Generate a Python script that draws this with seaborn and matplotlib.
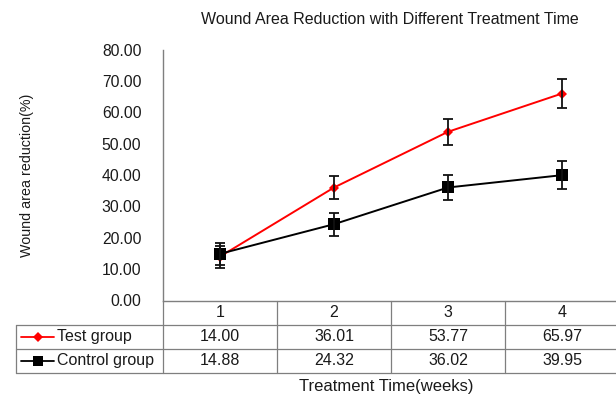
import numpy as np
import pandas as pd
import seaborn as sns
import matplotlib
matplotlib.use('Agg')
import matplotlib.pyplot as plt
from matplotlib.transforms import blended_transform_factory

# data
weeks = [1, 2, 3, 4]
test_vals = [14.00, 36.01, 53.77, 65.97]
control_vals = [14.88, 24.32, 36.02, 39.95]
test_err = [3.5, 3.8, 4.2, 4.5]
control_err = [3.5, 3.7, 4.1, 4.4]
series_names = ['Test group', 'Control group']
y_ticks = [0, 10, 20, 30, 40, 50, 60, 70, 80]

sns.set_style('white')
plt.rcParams['font.family'] = ['Liberation Sans', 'DejaVu Sans']
txt = '#1a1a1a'
grid_c = '#7f7f7f'

W, H = 616, 398
fig = plt.figure(figsize=(W / 100, H / 100), dpi=100)
ax = fig.add_axes([163 / W, 97.5 / H, 456 / W, 251 / H])

df = pd.DataFrame({
    'week': weeks * 2,
    'value': test_vals + control_vals,
    'group': [series_names[0]] * 4 + [series_names[1]] * 4,
})

sns.lineplot(data=df[df.group == series_names[0]], x='week', y='value', ax=ax,
             color='#ff0000', marker='D', markersize=5.5, markeredgewidth=0,
             linewidth=1.4, errorbar=None, zorder=3)
sns.lineplot(data=df[df.group == series_names[1]], x='week', y='value', ax=ax,
             color='black', marker='s', markersize=8, markeredgewidth=0,
             linewidth=1.4, errorbar=None, zorder=4)
ax.errorbar(weeks, test_vals, yerr=test_err, fmt='none', ecolor='#111111',
            elinewidth=1.3, capsize=3.5, capthick=1.3, zorder=5)
ax.errorbar(weeks, control_vals, yerr=control_err, fmt='none', ecolor='#111111',
            elinewidth=1.3, capsize=3.5, capthick=1.3, zorder=5)

ax.set_xlim(0.5, 4.5)
ax.set_ylim(0, 80)
ax.set_yticks(y_ticks)
ax.set_yticklabels([f'{v:.2f}' for v in y_ticks], fontsize=11.3, color=txt)
ax.tick_params(axis='y', direction='in', length=4, width=1, color=grid_c, pad=15.5)
ax.set_xticks([])
ax.set_xlabel('')
ax.set_ylabel('Wound area reduction(%)', fontsize=10.3, color=txt)
ax.yaxis.set_label_coords(-0.282, 0.5)
for s in ['top', 'right']:
    ax.spines[s].set_visible(False)
for s in ['left', 'bottom']:
    ax.spines[s].set_color(grid_c)
    ax.spines[s].set_linewidth(1.0)

fig.text(390 / W, 1 - 19 / H, 'Wound Area Reduction with Different Treatment Time',
         ha='center', va='center', fontsize=11.5, color=txt)
fig.text(386 / W, 1 - 386 / H, 'Treatment Time(weeks)',
         ha='center', va='center', fontsize=12, color=txt)

# data table below the axes
tr = blended_transform_factory(ax.transData, fig.transFigure)
fy = lambda p: 1 - p / H
fx = lambda p: p / W
rows = [300.5, 324.5, 348.5, 373]
kw = dict(color=grid_c, lw=0.9, clip_on=False)
for r in rows[1:]:
    fig.add_artist(plt.Line2D([fx(16), 1], [fy(r), fy(r)], **kw))
fig.add_artist(plt.Line2D([fx(16), fx(16)], [fy(rows[1]), fy(rows[3])], **kw))
fig.add_artist(plt.Line2D([fx(163), fx(163)], [fy(rows[0]), fy(rows[3])], **kw))
for b in [1.5, 2.5, 3.5]:
    ax.plot([b, b], [fy(rows[0]), fy(rows[3])], transform=tr, **kw)

row_mid = [(rows[i] + rows[i + 1]) / 2 for i in range(3)]
for w in weeks:
    ax.text(w, fy(row_mid[0]), str(w), transform=tr, ha='center', va='center',
            fontsize=11.5, color=txt)
for w, tv, cv in zip(weeks, test_vals, control_vals):
    ax.text(w, fy(row_mid[1]), f'{tv:.2f}', transform=tr, ha='center', va='center',
            fontsize=11.5, color=txt)
    ax.text(w, fy(row_mid[2]), f'{cv:.2f}', transform=tr, ha='center', va='center',
            fontsize=11.5, color=txt)

keys = [('#ff0000', 'D', 5), ('black', 's', 6.5)]
for (c, m, ms), name, ym in zip(keys, series_names, row_mid[1:]):
    fig.add_artist(plt.Line2D([fx(21), fx(54)], [fy(ym), fy(ym)], color=c, lw=1.3))
    fig.add_artist(plt.Line2D([fx(38)], [fy(ym)], color=c, marker=m, markersize=ms,
                              markeredgewidth=0))
    fig.text(fx(57), fy(ym), name, ha='left', va='center', fontsize=11.5, color=txt)

fig.savefig('out.png', dpi=100)
